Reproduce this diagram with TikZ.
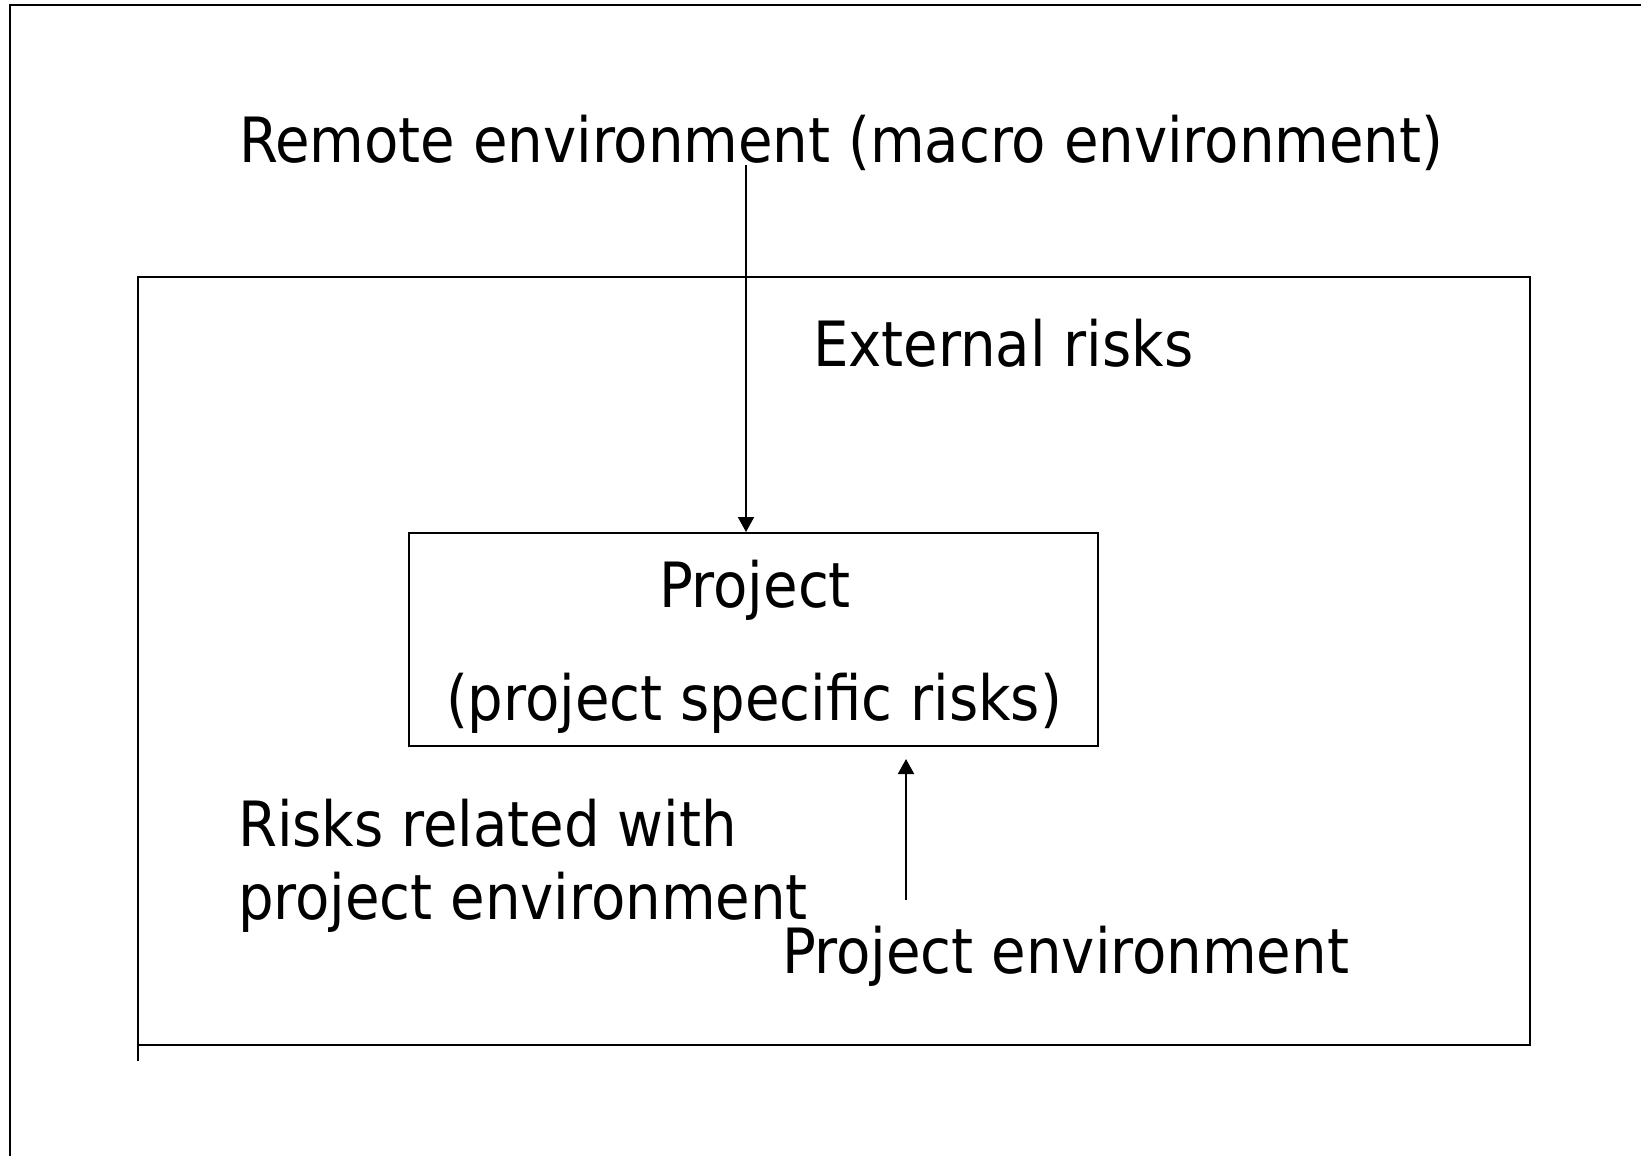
\documentclass[tikz,border=0pt]{standalone}
\usepackage{fontspec}
\newfontfamily\slidefont{DejaVu Sans Condensed}
\usetikzlibrary{arrows.meta}
\begin{document}
\begin{tikzpicture}[x=0.5pt,y=-0.5pt,line width=1pt,
	txt_node/.style={inner sep=0pt,anchor=base west,font=\slidefont\fontsize{31.2}{37}\selectfont},
	ctr_node/.style={txt_node,anchor=base},
	proj_node/.style={draw,rectangle,minimum width=344.5pt,minimum height=106.5pt,inner sep=0pt},
	arr/.style={-{Triangle[width=8pt,length=7.5pt]}}]

	\useasboundingbox (0,0) rectangle (1641,1156);

	\draw (10,1156) -- (10,5) -- (1641,5);
	\draw (138,1061) -- (138,277) -- (1530,277) -- (1530,1045) -- (138,1045);

	\node[txt_node] (remote) at (238,162) {Remote environment (macro environment)};
	\node[txt_node] (external) at (812,366) {External risks};
	\node[proj_node] (project) at (753.5,639.5) {};
	\node[ctr_node] (projname) at (755,607) {Project};
	\node[ctr_node] (projrisks) at (754,720) {(project specific risks)};
	\node[txt_node] (related1) at (237,846) {Risks related with};
	\node[txt_node] (related2) at (237,919) {project environment};
	\node[txt_node] (projenv) at (781,973) {Project environment};

	\coordinate (remotetail) at (746,165);
	\coordinate (envtail) at (906,900);
	\draw[arr] (remotetail) -- (remotetail |- project.north);
	\draw[arr,shorten >=6pt] (envtail) -- (envtail |- project.south);
\end{tikzpicture}
\end{document}
